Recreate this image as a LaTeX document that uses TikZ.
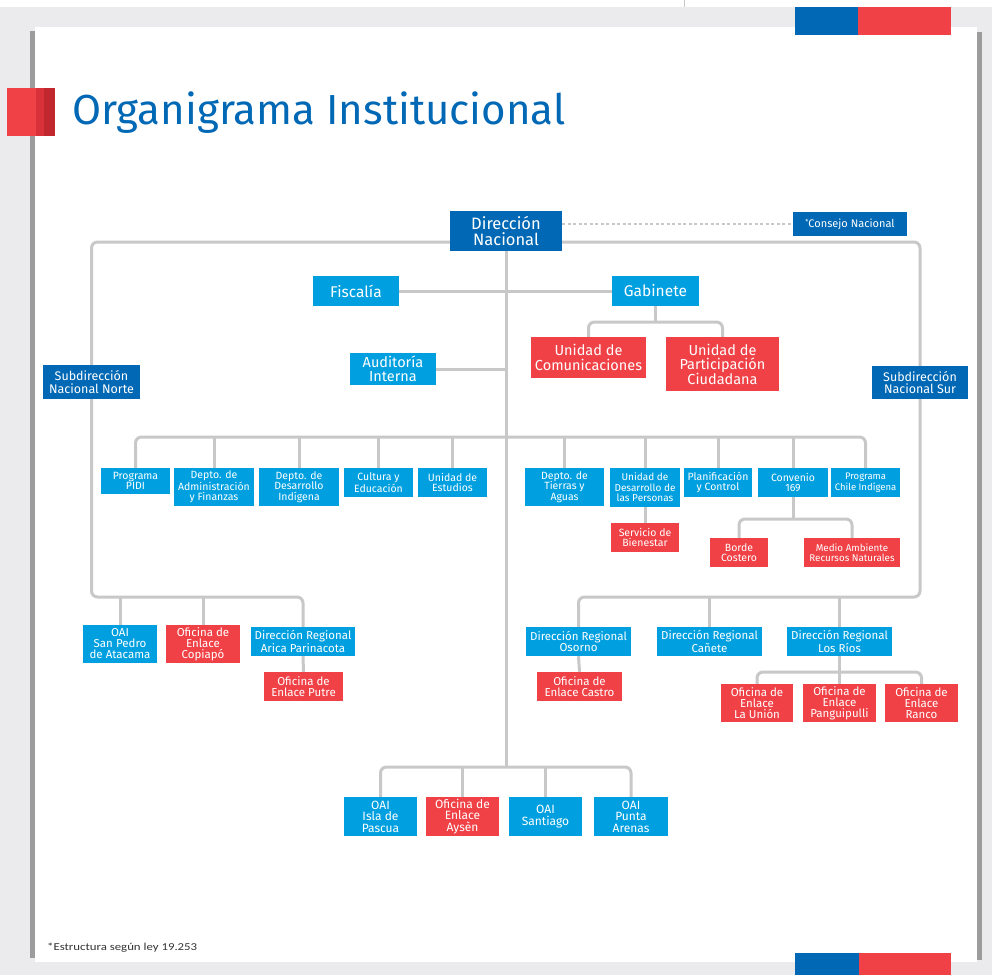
\documentclass[tikz,border=0pt]{standalone}
\usepackage{fontspec}
\usepackage{graphicx}
\setmainfont{Fira Sans}
\newfontfamily\titlefont{Fira Sans}
\newfontfamily\footfont{Carlito}
\definecolor{dblue}{HTML}{0068B4}
\definecolor{lblue}{HTML}{00A0E0}
\definecolor{cred}{HTML}{EF4146}
\definecolor{tabmid}{HTML}{D9313A}
\definecolor{tabdark}{HTML}{C0272F}
\definecolor{connc}{HTML}{C8C8C8}
\definecolor{pagebg}{HTML}{EBEBED}
\definecolor{edgegray}{HTML}{9C9C9C}
\pgfdeclarelayer{framelayer}
\pgfdeclarelayer{lineslayer}
\pgfsetlayers{framelayer,lineslayer,main}
\begin{document}
\begin{tikzpicture}[x=1pt,y=-1pt,
  box/.style={rectangle, inner sep=0pt, text=white, align=center},
  dk/.style={box, fill=dblue},
  lb/.style={box, fill=lblue},
  rd/.style={box, fill=cred},
  sz/.style 2 args={minimum width=#1pt, minimum height=#2pt},
  fs/.style 2 args={font=\fontsize{#1}{#2}\selectfont},
  ln/.style={draw=connc, line width=3pt, rounded corners=6pt},
]
\useasboundingbox (0,0) rectangle (992,975);
% ---------- frame ----------
\begin{pgfonlayer}{framelayer}
\fill[white] (0,0) rectangle (992,975);
\fill[pagebg] (0,7) rectangle (992,975);
\fill[white] (35,27) rectangle (977,962);
\fill[edgegray] (30,31) rectangle (35,958);
\fill[edgegray] (977,32) rectangle (982,960);
\draw[connc, line width=1pt] (684,0) -- (684,7);
\fill[dblue] (795,7) rectangle (858,35);
\fill[cred] (858,7) rectangle (951,35);
\fill[dblue] (795,953) rectangle (859,975);
\fill[cred] (859,953) rectangle (951,975);
\fill[cred] (7,88) rectangle (36,136);
\fill[tabmid] (36,88) rectangle (44,136);
\fill[tabdark] (44,88) rectangle (55,136);
\end{pgfonlayer}
\node[anchor=base west, inner sep=0pt, text=dblue, font=\titlefont\fontsize{42}{44}\selectfont] (title) at (72,124) {Organigrama Institucional};
\node[anchor=base west, inner sep=0pt, text=black!80, font=\footfont\fontsize{10}{10}\selectfont] (foot) at (47,950) {\resizebox{150pt}{7.5pt}{*Estructura según ley 19.253}};

% ---------- top level ----------
\node[dk, sz={112}{40}, fs={16.5}{15.5}] (DN) at (506,231) {Dirección\\Nacional};
\node[dk, sz={114}{24}, fs={11}{11}] (CN) at (850,224) {\raisebox{2.5pt}{\fontsize{7}{7}\selectfont *}Consejo Nacional};
\node[lb, sz={86}{30}, fs={15.5}{15}] (FI) at (356,291) {Fiscalía};
\node[lb, sz={87}{30}, fs={15.5}{15}] (GA) at (655.5,291) {Gabinete};
\node[rd, sz={115}{41}, fs={14.5}{14.5}] (UC) at (588.5,357.5) {Unidad de\\Comunicaciones};
\node[rd, sz={113}{54}, fs={14.5}{14.5}] (UP) at (722.5,364) {Unidad de\\Participación\\Ciudadana};
\node[lb, sz={86}{32}, fs={14.5}{13.5}] (AU) at (393,369) {Auditoría\\Interna};
\node[dk, sz={97}{34}, fs={12.5}{12.5}] (SN) at (91.5,382) {Subdirección\\Nacional Norte};
\node[dk, sz={96}{33}, fs={12.5}{12.5}] (SS) at (920,382.5) {Subdirección\\Nacional Sur};

% ---------- department row ----------
\node[lb, sz={69}{26}, fs={10.5}{10.5}] (PI) at (135.5,481) {Programa\\PIDI};
\node[lb, sz={80}{38}, fs={10.5}{10.5}] (AF) at (214,487) {Depto. de\\Administración\\y Finanzas};
\node[lb, sz={80}{38}, fs={10.5}{10.5}] (DI) at (299,487) {Depto. de\\Desarrollo\\Indígena};
\node[lb, sz={69}{29}, fs={10.5}{10.5}] (CE) at (378.5,482.5) {Cultura y\\Educación};
\node[lb, sz={69}{29}, fs={10.5}{10.5}] (UE) at (452.5,482.5) {Unidad de\\Estudios};
\node[lb, sz={79}{38}, fs={10.5}{10.5}] (TA) at (564.5,487) {Depto. de\\Tierras y\\Aguas};
\node[lb, sz={70}{39}, fs={10}{10.5}] (UD) at (645,487.5) {Unidad de\\Desarrollo de\\las Personas};
\node[lb, sz={68}{29}, fs={10.5}{10.5}] (PC) at (718,482.5) {Planificación\\y Control};
\node[lb, sz={70}{29}, fs={10.5}{10.5}] (CV) at (793,482.5) {Convenio\\169};
\node[lb, sz={69}{29}, fs={9.5}{10.5}] (CI) at (865.5,482.5) {Programa\\Chile Indígena};
\node[rd, sz={68}{29}, fs={10.5}{10.5}] (SB) at (645,537.5) {Servicio de\\Bienestar};
\node[rd, sz={58}{29}, fs={10.5}{10.5}] (BC) at (739,552.5) {Borde\\Costero};
\node[rd, sz={96}{29}, fs={9.8}{10.5}] (MA) at (852,552.5) {Medio Ambiente\\Recursos Naturales};

% ---------- regional row ----------
\node[lb, sz={74}{38}, fs={11.5}{11}] (SP) at (120,644) {OAI\\San Pedro\\de Atacama};
\node[rd, sz={74}{38}, fs={11.5}{11}] (CO) at (203,644) {Oficina de\\Enlace\\Copiapó};
\node[lb, sz={104}{29}, fs={11.5}{11}] (AR) at (303,641.5) {Dirección Regional\\Arica Parinacota};
\node[rd, sz={79}{29}, fs={11.5}{11}] (PU) at (303.5,686.5) {Oficina de\\Enlace Putre};
\node[lb, sz={105}{29}, fs={11.5}{11}] (OS) at (578.5,641.5) {Dirección Regional\\Osorno};
\node[lb, sz={105}{29}, fs={11.5}{11}] (CA) at (709.5,641.5) {Dirección Regional\\Cañete};
\node[lb, sz={105}{29}, fs={11.5}{11}] (LR) at (839.5,641.5) {Dirección Regional\\Los Ríos};
\node[rd, sz={85}{29}, fs={11.5}{11}] (CT) at (579.5,686.5) {Oficina de\\Enlace Castro};
\node[rd, sz={72}{38}, fs={11.5}{11}] (LU) at (757,703) {Oficina de\\Enlace\\La Unión};
\node[rd, sz={73}{38}, fs={11.5}{11}] (PG) at (839.5,703) {Oficina de\\Enlace\\Panguipulli};
\node[rd, sz={73}{38}, fs={11.5}{11}] (RA) at (921.5,703) {Oficina de\\Enlace\\Ranco};

% ---------- bottom row ----------
\node[lb, sz={73}{39}, fs={12}{11.5}] (IP) at (380.5,816.5) {OAI\\Isla de\\Pascua};
\node[rd, sz={73}{39}, fs={12}{11.5}] (AY) at (462.5,816.5) {Oficina de\\Enlace\\Aysèn};
\node[lb, sz={73}{39}, fs={12}{11.5}] (SA) at (545.5,816.5) {OAI\\Santiago};
\node[lb, sz={74}{39}, fs={12}{11.5}] (PA) at (631,816.5) {OAI\\Punta\\Arenas};

% ---------- connectors ----------
\coordinate (yTop) at (0,242);
\coordinate (yGab) at (0,322);
\coordinate (yDept) at (0,437);
\coordinate (yConv) at (0,519);
\coordinate (yReg) at (0,597);
\coordinate (yRios) at (0,672);
\coordinate (yBot) at (0,767);
\coordinate (cx) at (506,0);
\begin{pgfonlayer}{lineslayer}
\draw[connc, line width=1.2pt, dash pattern=on 3pt off 2.5pt] (DN.east |- CN.west) -- (CN.west);
\draw[ln] (SN.north) -- (SN.north |- yTop) -- (SS.north |- yTop) -- (SS.north);
\draw[ln] (SN.south) -- (SN.south |- yReg) -- (AR.north |- yReg) -- (AR.north);
\draw[ln] (SP.north) -- (SP.north |- yReg);
\draw[ln] (CO.north) -- (CO.north |- yReg);
\draw[ln] (SS.south) -- (SS.south |- yReg) -- (OS.north |- yReg) -- (OS.north);
\draw[ln] (CA.north) -- (CA.north |- yReg);
\draw[ln] (LR.north) -- (LR.north |- yReg);
\draw[ln] (DN.south) -- (cx |- yBot);
\draw[ln] (IP.north) -- (IP.north |- yBot) -- (PA.north |- yBot) -- (PA.north);
\draw[ln] (AY.north) -- (AY.north |- yBot);
\draw[ln] (SA.north) -- (SA.north |- yBot);
\draw[ln] (FI.east) -- (GA.west);
\draw[ln] (GA.south) -- (GA.south |- yGab);
\draw[ln] (UC.north) -- (UC.north |- yGab) -- (UP.north |- yGab) -- (UP.north);
\draw[ln] (AU.east) -- (cx |- AU.east);
\draw[ln] (PI.north) -- (PI.north |- yDept) -- (CI.north |- yDept) -- (CI.north);
\foreach \n in {AF,DI,CE,UE,TA,UD,PC,CV} {\draw[ln] (\n.north) -- (\n.north |- yDept);}
\draw[ln] (UD.south) -- (SB.north);
\draw[ln] (CV.south) -- (CV.south |- yConv);
\draw[ln] (BC.north) -- (BC.north |- yConv) -- (MA.north |- yConv) -- (MA.north);
\draw[ln] (AR.south) -- (PU.north);
\draw[ln] (OS.south) -- (CT.north);
\draw[ln] (LR.south) -- (LR.south |- yRios);
\draw[ln] (LU.north) -- (LU.north |- yRios) -- (RA.north |- yRios) -- (RA.north);
\draw[ln] (PG.north) -- (PG.north |- yRios);
\end{pgfonlayer}
\end{tikzpicture}
\end{document}
